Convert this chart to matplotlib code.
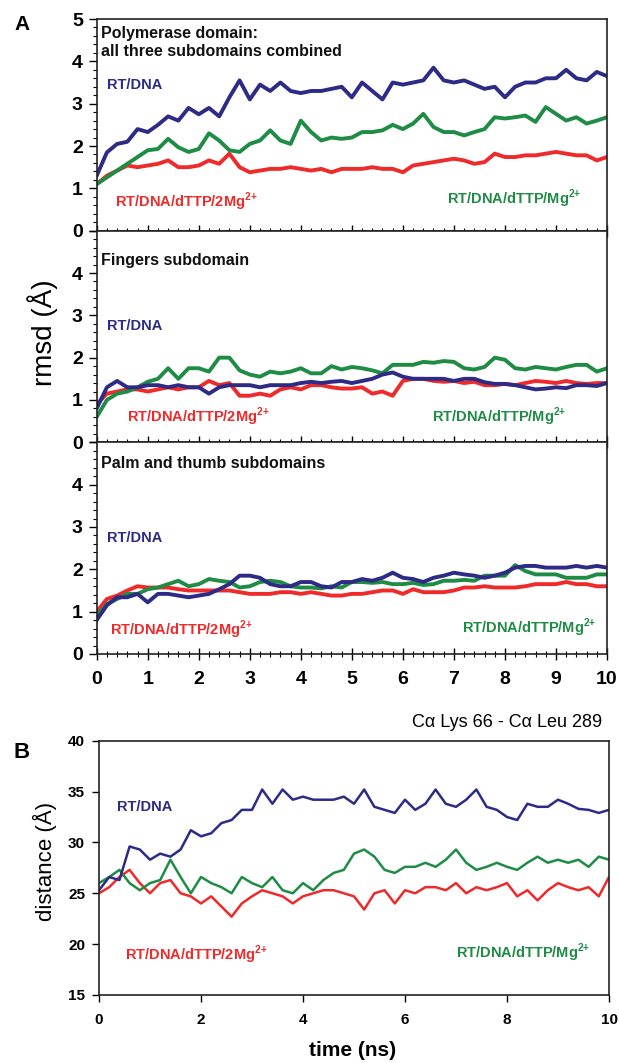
import numpy as np
import matplotlib
matplotlib.use("Agg")
import matplotlib.pyplot as plt
from matplotlib.ticker import MultipleLocator

plt.rcParams['font.family'] = ['Liberation Sans', 'DejaVu Sans']
plt.rcParams['mathtext.fontset'] = 'custom'
plt.rcParams['mathtext.rm'] = 'Liberation Sans'
plt.rcParams['mathtext.bf'] = 'Liberation Sans:bold'

time_ns = np.arange(0, 10.001, 0.2)

top_rtdna = [1.3, 1.85, 2.05, 2.1, 2.4, 2.33, 2.5, 2.7, 2.6, 2.9, 2.75, 2.9, 2.7, 3.15, 3.55, 3.1,
             3.45, 3.3, 3.5, 3.3, 3.25, 3.3, 3.3, 3.35, 3.4, 3.15, 3.5, 3.3, 3.1, 3.5, 3.45, 3.5,
             3.55, 3.85, 3.55, 3.5, 3.55, 3.45, 3.35, 3.4, 3.15, 3.4, 3.5, 3.5, 3.6, 3.6, 3.8, 3.6,
             3.55, 3.75, 3.65]
top_mg1 = [1.1, 1.26, 1.42, 1.58, 1.74, 1.9, 1.93, 2.17, 1.97, 1.86, 1.93, 2.3, 2.13, 1.9, 1.86, 2.05,
           2.13, 2.37, 2.13, 2.05, 2.6, 2.33, 2.13, 2.2, 2.17, 2.2, 2.33, 2.33, 2.37, 2.5, 2.4, 2.53,
           2.76, 2.45, 2.33, 2.33, 2.25, 2.33, 2.4, 2.68, 2.65, 2.68, 2.72, 2.57, 2.92, 2.76, 2.6,
           2.68, 2.53, 2.6, 2.68]
top_mg2 = [1.1, 1.3, 1.42, 1.54, 1.5, 1.54, 1.58, 1.66, 1.5, 1.5, 1.54, 1.66, 1.58, 1.82, 1.5, 1.38,
           1.42, 1.46, 1.46, 1.5, 1.46, 1.42, 1.46, 1.38, 1.46, 1.46, 1.46, 1.5, 1.46, 1.46, 1.38,
           1.54, 1.58, 1.62, 1.66, 1.7, 1.66, 1.58, 1.62, 1.82, 1.74, 1.74, 1.78, 1.78, 1.82, 1.86,
           1.82, 1.78, 1.78, 1.66, 1.74]

fin_rtdna = [0.8, 1.3, 1.45, 1.3, 1.3, 1.35, 1.35, 1.3, 1.35, 1.3, 1.3, 1.15, 1.3, 1.35, 1.35, 1.35,
             1.3, 1.35, 1.35, 1.35, 1.4, 1.43, 1.4, 1.43, 1.45, 1.4, 1.45, 1.5, 1.6, 1.65, 1.55, 1.5,
             1.5, 1.5, 1.5, 1.45, 1.5, 1.5, 1.42, 1.38, 1.38, 1.35, 1.3, 1.25, 1.27, 1.3, 1.28, 1.35,
             1.35, 1.33, 1.4]
fin_mg1 = [0.6, 1.0, 1.15, 1.2, 1.3, 1.43, 1.5, 1.75, 1.5, 1.75, 1.75, 1.67, 2.0, 2.0, 1.7, 1.6,
           1.55, 1.67, 1.63, 1.67, 1.75, 1.63, 1.63, 1.8, 1.72, 1.78, 1.75, 1.7, 1.63, 1.83, 1.83,
           1.83, 1.9, 1.88, 1.92, 1.9, 1.75, 1.72, 1.78, 2.0, 1.95, 1.75, 1.72, 1.78, 1.75, 1.72,
           1.78, 1.83, 1.83, 1.67, 1.75]
fin_mg2 = [0.9, 1.15, 1.2, 1.25, 1.25, 1.2, 1.25, 1.3, 1.25, 1.3, 1.3, 1.45, 1.35, 1.4, 1.1, 1.1,
           1.15, 1.1, 1.25, 1.3, 1.25, 1.35, 1.35, 1.3, 1.27, 1.27, 1.3, 1.15, 1.2, 1.1, 1.45, 1.5,
           1.5, 1.45, 1.43, 1.45, 1.4, 1.43, 1.35, 1.35, 1.38, 1.35, 1.4, 1.45, 1.43, 1.4, 1.45,
           1.4, 1.38, 1.4, 1.4]

palm_rtdna = [0.8, 1.15, 1.34, 1.34, 1.42, 1.22, 1.42, 1.42, 1.38, 1.34, 1.38, 1.42, 1.53, 1.65,
              1.85, 1.85, 1.8, 1.65, 1.6, 1.6, 1.7, 1.7, 1.6, 1.57, 1.7, 1.7, 1.77, 1.73, 1.8, 1.92,
              1.8, 1.77, 1.7, 1.8, 1.85, 1.92, 1.88, 1.85, 1.8, 1.85, 1.92, 2.04, 2.08, 2.08, 2.04,
              2.04, 2.04, 2.08, 2.04, 2.08, 2.04]
palm_mg1 = [0.9, 1.18, 1.3, 1.42, 1.42, 1.53, 1.57, 1.65, 1.73, 1.6, 1.65, 1.77, 1.73, 1.7, 1.57,
            1.6, 1.7, 1.73, 1.7, 1.6, 1.57, 1.57, 1.55, 1.6, 1.57, 1.7, 1.7, 1.68, 1.7, 1.65, 1.65,
            1.68, 1.63, 1.65, 1.73, 1.73, 1.75, 1.73, 1.85, 1.85, 1.85, 2.1, 1.96, 1.88, 1.88, 1.88,
            1.8, 1.8, 1.8, 1.88, 1.88]
palm_mg2 = [1.0, 1.3, 1.38, 1.5, 1.6, 1.57, 1.57, 1.57, 1.53, 1.5, 1.5, 1.5, 1.5, 1.5, 1.46, 1.42,
            1.42, 1.42, 1.46, 1.46, 1.42, 1.46, 1.42, 1.38, 1.38, 1.42, 1.42, 1.46, 1.5, 1.5, 1.42,
            1.53, 1.46, 1.46, 1.46, 1.5, 1.57, 1.57, 1.6, 1.57, 1.57, 1.57, 1.6, 1.65, 1.65, 1.65,
            1.7, 1.65, 1.65, 1.6, 1.6]

dist_rtdna = [25.3, 26.6, 26.3, 29.6, 29.3, 28.3, 28.9, 28.6, 29.3, 31.2, 30.6, 30.9, 31.9, 32.2,
              33.2, 33.2, 35.2, 33.8, 35.2, 34.2, 34.5, 34.2, 34.2, 34.2, 34.5, 33.8, 35.2, 33.5,
              33.2, 32.9, 34.2, 33.2, 33.8, 35.2, 33.8, 33.5, 34.2, 35.2, 33.5, 33.2, 32.5, 32.2,
              33.8, 33.5, 33.5, 34.2, 33.8, 33.3, 33.2, 32.9, 33.2]
dist_mg1 = [26.0, 26.6, 27.3, 26.0, 25.3, 26.0, 26.3, 28.3, 26.6, 25.0, 26.6, 26.0, 25.6, 25.0, 26.6,
            26.0, 25.6, 26.6, 25.3, 25.0, 26.0, 25.3, 26.3, 27.0, 27.3, 28.9, 29.3, 28.6, 27.3, 27.0,
            27.6, 27.6, 28.0, 27.6, 28.3, 29.3, 28.0, 27.3, 27.6, 28.0, 27.6, 27.3, 28.0, 28.6, 28.0,
            28.3, 28.0, 28.3, 27.6, 28.6, 28.3]
dist_mg2 = [25.0, 25.6, 26.6, 27.3, 26.0, 25.0, 26.0, 26.3, 25.0, 24.7, 24.0, 24.7, 23.7, 22.7, 24.0,
            24.7, 25.3, 25.0, 24.7, 24.0, 24.7, 25.0, 25.3, 25.3, 25.0, 24.7, 23.4, 25.0, 25.3, 24.0,
            25.3, 25.0, 25.6, 25.6, 25.3, 26.0, 25.0, 25.6, 25.3, 25.6, 26.0, 24.7, 25.3, 24.3, 25.3,
            26.0, 25.6, 25.3, 25.6, 24.7, 26.6]

panel_titles = ["Polymerase domain:\nall three subdomains combined", "Fingers subdomain",
                "Palm and thumb subdomains"]
lbl_rtdna = "RT/DNA"
lbl_mg2 = r"RT/DNA/dTTP/2Mg$^{\mathbf{2{+}}}$"
lbl_mg1 = r"RT/DNA/dTTP/Mg$^{\mathbf{2{+}}}$"

NAVY = "#2d2b85"
RED = "#ee2a2a"
GREEN = "#1f8c45"

# ---------------- figure ----------------
W, H = 619, 1063
fig = plt.figure(figsize=(W / 100, H / 100), dpi=100)

def fx(px):
    return px / W

def fy(py):
    return 1 - py / H

axL, axR = 96.7, 607.0
tops = [19.0, 230.7, 442.3]
bots = [230.7, 442.3, 654.0]
series_A = [(top_mg2, top_mg1, top_rtdna), (fin_mg2, fin_mg1, fin_rtdna), (palm_mg2, palm_mg1, palm_rtdna)]

title_pos = [(0.009, 0.965), (0.009, 0.895), (0.009, 0.935)]
rtdna_pos = [(0.020, 0.688), (0.020, 0.550), (0.020, 0.548)]
red_pos = [(0.036, 0.111), (0.059, 0.096), (0.026, 0.092)]
green_pos = [(0.687, 0.128), (0.657, 0.096), (0.716, 0.100)]

for i in range(3):
    ax = fig.add_axes([fx(axL), fy(bots[i]), fx(axR) - fx(axL), (bots[i] - tops[i]) / H])
    r, g, n = series_A[i]
    ax.plot(time_ns, r, color=RED, lw=2.8, solid_joinstyle='round')
    ax.plot(time_ns, g, color=GREEN, lw=2.8, solid_joinstyle='round')
    ax.plot(time_ns, n, color=NAVY, lw=2.8, solid_joinstyle='round')
    ax.set_xlim(0, 10)
    ax.set_ylim(0, 5)
    ax.xaxis.set_major_locator(MultipleLocator(1))
    ax.xaxis.set_minor_locator(MultipleLocator(0.2))
    ax.yaxis.set_major_locator(MultipleLocator(1))
    ax.yaxis.set_minor_locator(MultipleLocator(0.2))
    ax.tick_params(axis='x', which='major', direction='inout', length=8, width=1.0,
                   top=False, labelsize=14, pad=8)
    ax.tick_params(axis='x', which='minor', direction='inout', length=5, width=0.8, top=False)
    ax.tick_params(axis='y', which='major', direction='out', length=6, width=1.0,
                   right=False, labelsize=14, pad=4)
    ax.tick_params(axis='y', which='minor', direction='out', length=3, width=0.8, right=False)
    for sp in ax.spines.values():
        sp.set_linewidth(1.2)
        sp.set_color('#222222')
    if i < 2:
        ax.set_xticklabels([])
    else:
        for t in ax.get_xticklabels():
            t.set_fontweight('bold')
    if i > 0:
        ax.set_yticks([0, 1, 2, 3, 4, 5])
        ax.set_yticklabels(['0', '1', '2', '3', '4', ''])
    for t in ax.get_yticklabels():
        t.set_fontweight('bold')
    ax.text(*title_pos[i], panel_titles[i], transform=ax.transAxes, fontsize=11.5,
            fontweight='bold', va='top', ha='left', color='#111111', linespacing=1.25)
    ax.text(*rtdna_pos[i], lbl_rtdna, transform=ax.transAxes, fontsize=10.5,
            fontweight='bold', va='center', ha='left', color=NAVY)
    ax.text(*red_pos[i], lbl_mg2, transform=ax.transAxes, fontsize=10.5,
            fontweight='bold', va='baseline', ha='left', color=RED)
    ax.text(*green_pos[i], lbl_mg1, transform=ax.transAxes, fontsize=10.5,
            fontweight='bold', va='baseline', ha='left', color=GREEN)

fig.text(fx(43), fy(333), "rmsd (Å)", rotation=90, fontsize=20, ha='center', va='center')
fig.text(fx(22), fy(25), "A", fontsize=15, fontweight='bold', ha='center', va='center')

# ---------------- panel B ----------------
bL, bR, bT, bB = 99.0, 609.0, 740.7, 995.0
axb = fig.add_axes([fx(bL), fy(bB), fx(bR) - fx(bL), (bB - bT) / H])
axb.plot(time_ns, dist_mg2, color=RED, lw=1.8, solid_joinstyle='round')
axb.plot(time_ns, dist_mg1, color=GREEN, lw=1.8, solid_joinstyle='round')
axb.plot(time_ns, dist_rtdna, color=NAVY, lw=1.8, solid_joinstyle='round')
axb.set_xlim(0, 10)
axb.set_ylim(15, 40)
axb.xaxis.set_major_locator(MultipleLocator(2))
axb.yaxis.set_major_locator(MultipleLocator(5))
axb.tick_params(axis='both', which='major', direction='out', length=5, width=1.0,
                labelsize=11, top=False, right=False)
axb.tick_params(axis='x', pad=8)
axb.tick_params(axis='y', pad=5)
for t in axb.get_xticklabels() + axb.get_yticklabels():
    t.set_fontweight('bold')
for sp in axb.spines.values():
    sp.set_linewidth(1.2)
    sp.set_color('#222222')
axb.text(0.035, 0.739, lbl_rtdna, transform=axb.transAxes, fontsize=10.5, fontweight='bold',
         va='center', ha='left', color=NAVY)
axb.text(0.051, 0.138, lbl_mg2, transform=axb.transAxes, fontsize=10.5, fontweight='bold',
         va='baseline', ha='left', color=RED)
axb.text(0.700, 0.145, lbl_mg1, transform=axb.transAxes, fontsize=10.5, fontweight='bold',
         va='baseline', ha='left', color=GREEN)
axb.text(0.986, 1.070, "Cα Lys 66 - Cα Leu 289", transform=axb.transAxes, fontsize=13,
         ha='right', va='center')

fig.text(fx(45), fy(861), "distance (Å)", rotation=90, fontsize=16, ha='center', va='center')
fig.text(fx(353), fy(1050), "time (ns)", fontsize=15, fontweight='bold', ha='center', va='center')
fig.text(fx(22), fy(753), "B", fontsize=16, fontweight='bold', ha='center', va='center')

fig.savefig("out.png", dpi=100)
